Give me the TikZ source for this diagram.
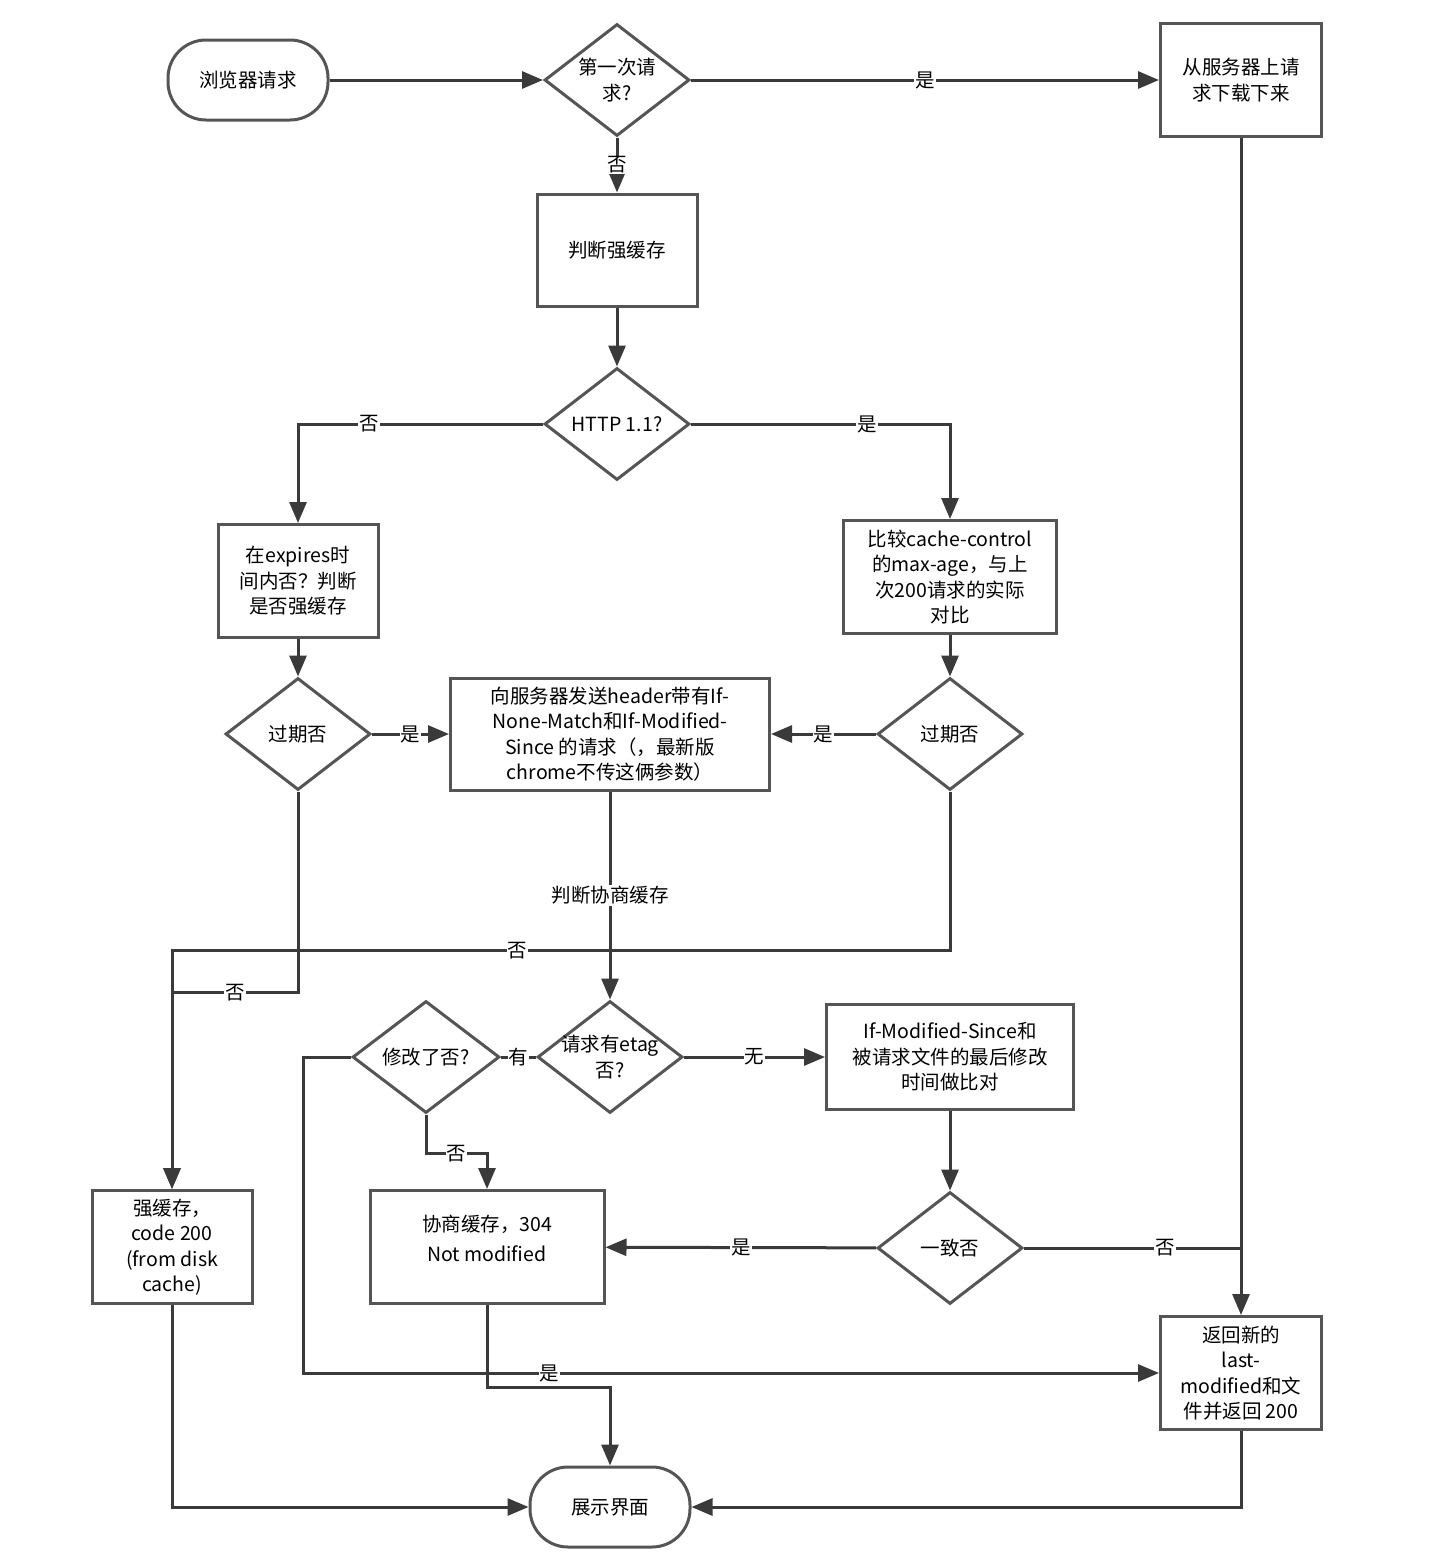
\documentclass[tikz,border=0pt]{standalone}
\usepackage{fontspec}
\setmainfont{Noto Sans CJK SC}
\usepackage{xcolor}
\usepackage{tikz}
\usetikzlibrary{shapes.geometric, arrows.meta}

\definecolor{linegray}{RGB}{58,58,58}
\definecolor{boxgray}{RGB}{85,85,85}

\begin{document}
\begin{tikzpicture}[x=1pt, y=-1pt, line width=3pt,
        every node/.style={font=\fontsize{19.5}{25.5}\selectfont, align=center},
        box/.style={draw=boxgray, fill=white, minimum width=160pt, minimum height=113pt, inner sep=2pt},
        term/.style={box, rounded corners=38pt, minimum height=80pt},
        dia/.style={shape=diamond, draw=boxgray, fill=white, shape aspect=1.3, inner sep=0pt, minimum width=145pt, minimum height=112pt},
        lab/.style={fill=white, inner sep=1pt},
        arr/.style={draw=linegray, -{Triangle[length=21pt, width=17pt]}},
        ln/.style={draw=linegray}]
            \useasboundingbox (0,0) rectangle (1440,1566);

            \node[term] (start) at (248, 80) {浏览器请求};
            \node[dia] (first) at (617, 80) {第一次请\\求?};
            \node[box, minimum width=161pt] (download) at (1241, 80) {从服务器上请\\求下载下来};
            \node[box, minimum height=112pt] (strong) at (617, 250) {判断强缓存};
            \node[dia] (http) at (617, 424) {HTTP 1.1?};

            \node[box] (expires) at (298, 581) {在expires时\\间内否？判断\\是否强缓存};
            \node[box, minimum width=213pt] (cc) at (950, 577) {比较cache-control\\的max-age，与上\\次200请求的实际\\对比};
            \node[dia] (exp1) at (298, 734) {过期否};
            \node[dia] (exp2) at (950, 734) {过期否};
            \node[box, minimum width=319pt, minimum height=112pt] (header) at (610, 734) {向服务器发送header带有If-\\None-Match和If-Modified-\\Since 的请求（，最新版\\chrome不传这俩参数）};

            \node[dia] (etag) at (610, 1057) {\makebox[70pt]{请求有etag}\\否?};
            \node[dia, minimum width=147pt] (modq) at (426, 1057) {修改了否?};
            \node[box, minimum width=247pt, minimum height=105pt] (ims) at (950, 1057) {If-Modified-Since和\\被请求文件的最后修改\\时间做比对};
            \node[dia] (consist) at (950, 1248) {一致否};
            \node[box, minimum width=234pt] (c304) at (487, 1247) {协商缓存，304\\[4pt]Not modified\\[-8pt]{}};
            \node[box] (strong200) at (172, 1247) {强缓存，\\code 200\\(from disk\\cache)};
            \node[box, minimum width=161pt] (new200) at (1241, 1373) {返回新的\\last-\\modified和文\\件并返回 200};
            \node[term] (show) at (610, 1507) {展示界面};

            % top row
            \draw[arr] (start) -- (first);
            \draw[arr] (first) -- node[lab]{是} (download);
            \draw[arr] (first) -- node[lab]{否} (strong);
            \draw[arr] (strong) -- (http);
            \draw[arr] (http.west) -| node[lab, pos=0.355]{否} (expires.north);
            \draw[arr] (http.east) -| node[lab, pos=0.34]{是} (cc.north);

            % expiry checks
            \draw[arr] (expires) -- (exp1);
            \draw[arr] (cc) -- (exp2);
            \draw[arr] (exp1) -- node[lab]{是} (header);
            \draw[arr] (exp2) -- node[lab]{是} (header);
            \draw[arr] (exp1.south) -- ++(0,201) -| node[lab, pos=0.25]{否} (strong200.north);
            \draw[arr] (exp2.south) -- ++(0,159) -| node[lab, pos=0.278]{否} (strong200.north);

            % negotiated cache
            \draw[arr] (header) -- node[lab]{判断协商缓存} (etag);
            \draw[ln] (etag) -- node[lab]{有} (modq);
            \draw[arr] (etag) -- node[lab]{无} (ims);
            \draw[arr] (modq.south) -- ++(0,39) -| node[lab, pos=0.25]{否} (c304.north);
            \draw[arr] (modq.west) -- ++(-48,0) |- node[lab, pos=0.644]{是} (new200.west);
            \draw[arr] (ims) -- (consist);
            \draw[arr] (consist) -- node[lab]{是} (c304);
            \draw[ln] (consist.east) -- node[lab, pos=0.65]{否} (consist.east -| new200.north);
            \draw[arr] (download) -- (new200);

            % to the page
            \draw[arr] (c304.south) -- ++(0,82) -| (show.north);
            \draw[arr] (strong200.south) |- (show.west);
            \draw[arr] (new200.south) |- (show.east);
        \end{tikzpicture}
\end{document}
